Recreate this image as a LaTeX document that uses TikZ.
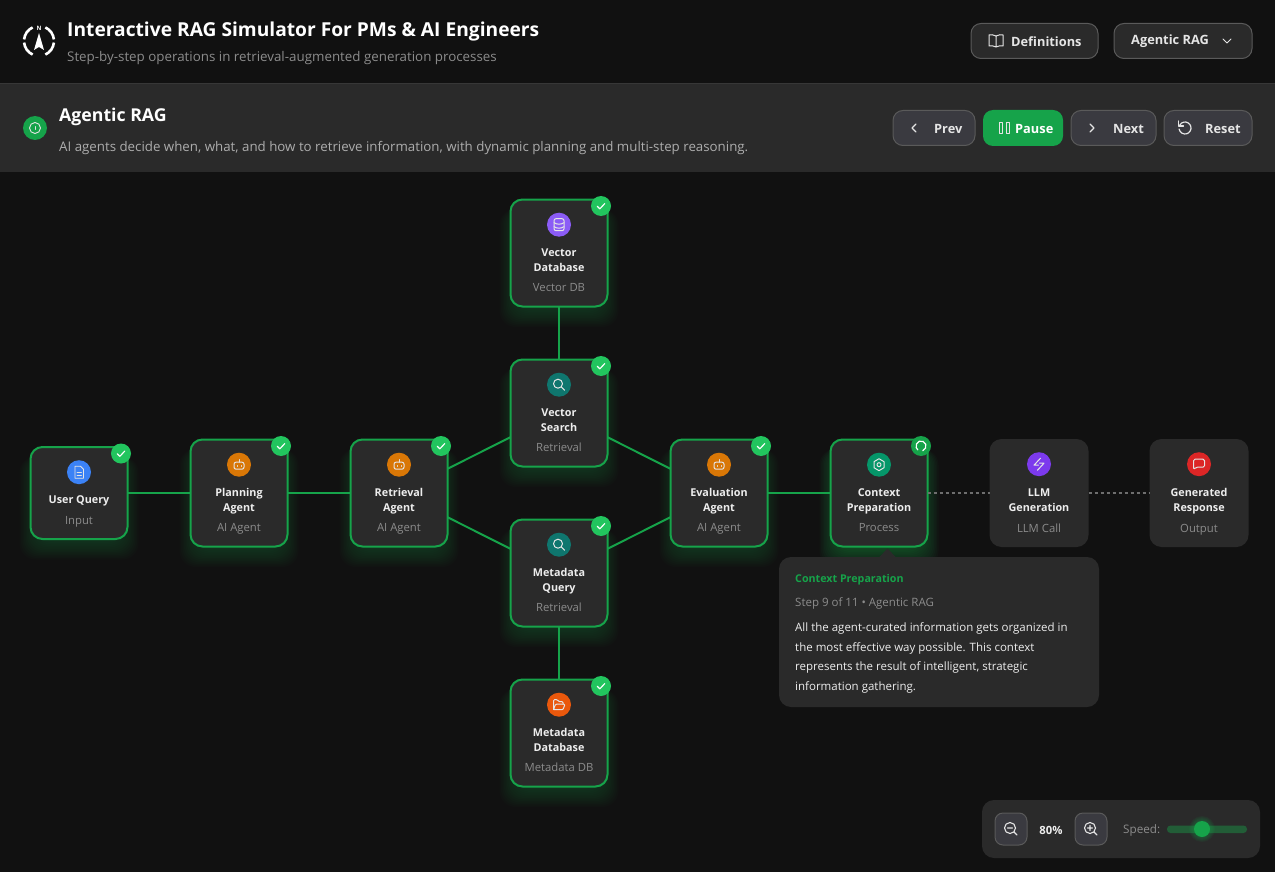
\documentclass[tikz,border=0pt]{standalone}
\usepackage{fontspec}
\setmainfont{Open Sans}
\usetikzlibrary{positioning}
\definecolor{pagebg}{HTML}{111111}
\definecolor{panelbg}{HTML}{2A2A2A}
\definecolor{btnbg}{HTML}{3A3A40}
\definecolor{btnline}{HTML}{5A5A5A}
\definecolor{flowgreen}{HTML}{16A34A}
\definecolor{checkgreen}{HTML}{22C55E}
\definecolor{softtext}{HTML}{8C8C8C}
\definecolor{dotgrey}{HTML}{6E6E6E}
\definecolor{bluedot}{HTML}{3B82F6}
\definecolor{amberdot}{HTML}{D97706}
\definecolor{violetdot}{HTML}{8B5CF6}
\definecolor{tealdot}{HTML}{0F766E}
\definecolor{orangedot}{HTML}{EA580C}
\definecolor{emeralddot}{HTML}{059669}
\definecolor{purpledot}{HTML}{7C3AED}
\definecolor{reddot}{HTML}{DC2626}
\tikzset{
	stepbox/.style={rectangle,rounded corners=12pt,fill=panelbg,minimum width=99pt,inner sep=0pt,outer sep=0pt},
	donebox/.style={stepbox,draw=flowgreen,line width=2pt,minimum width=97pt},
	iconball/.style={circle,minimum size=24pt,inner sep=0pt},
	stepname/.style={font=\fontsize{10.8}{15}\selectfont\bfseries,text=white!93!black,align=center,inner sep=0pt},
	steptype/.style={font=\fontsize{11.3}{14}\selectfont,text=softtext,inner sep=0pt},
	badge/.style={circle,minimum size=20pt,inner sep=0pt},
	wire/.style={draw=flowgreen,line width=2pt},
	dotwire/.style={draw=dotgrey,line width=2pt,dash pattern=on 3pt off 3pt},
	glyph/.style={draw=white!90!black,line width=1pt,line cap=round,line join=round},
	topbtn/.style={rectangle,rounded corners=10pt,fill=panelbg,draw=btnline,line width=1pt,minimum height=35pt,inner sep=0pt},
	ctrlbtn/.style={topbtn,fill=btnbg},
	btntext/.style={font=\fontsize{12.8}{15}\selectfont\bfseries,text=white!90!black,anchor=west,inner sep=0pt},
	tiptext/.style={font=\fontsize{11.5}{14}\selectfont,anchor=west,inner sep=0pt,text=white!93!black},
	pics/docglyph/.style={code={
		\draw[glyph,line width=.9pt] (-4,-6) -- (1.5,-6) -- (4.5,-3) -- (4.5,6) -- (-4,6) -- cycle;
		\draw[glyph,line width=.8pt] (-2,0) -- (2.5,0) (-2,3) -- (2.5,3);
	}},
	pics/botglyph/.style={code={
		\draw[glyph,rounded corners=2pt] (-5,-2.5) rectangle (5,4.5);
		\draw[glyph] (0,-2.5) -- (0,-5);
		\draw[glyph] (-2,.8) -- (-2,1.6) (2,.8) -- (2,1.6);
	}},
	pics/dbglyph/.style={code={
		\draw[glyph,rounded corners=2pt] (-5,-6) rectangle (5,6);
		\draw[glyph] (-5,-2) .. controls (-2,0) and (2,0) .. (5,-2);
		\draw[glyph] (-5,2) .. controls (-2,4) and (2,4) .. (5,2);
	}},
	pics/lensglyph/.style={code={
		\draw[glyph] (-1,-1) circle[radius=4.5pt];
		\draw[glyph] (2.4,2.4) -- (5.5,5.5);
	}},
	pics/gearglyph/.style={code={
		\draw[glyph] (0,-6) -- (5,-3) -- (5,3) -- (0,6) -- (-5,3) -- (-5,-3) -- cycle;
		\draw[glyph] (0,0) circle[radius=2pt];
	}},
	pics/boltglyph/.style={code={
		\draw[glyph] (1.5,-6) -- (-5,1) -- (-.5,1) (-1.5,6) -- (5,-1) -- (.5,-1);
	}},
	pics/chatglyph/.style={code={
		\draw[glyph,rounded corners=1.5pt] (-5.5,-5) -- (5.5,-5) -- (5.5,3) -- (-3,3) -- (-5.5,5.5) -- cycle;
	}},
	pics/folderglyph/.style={code={
		\draw[glyph,rounded corners=1pt] (-5.5,5) -- (-5.5,-5) -- (-1.5,-5) -- (0,-3) -- (4,-3) -- (4,-.5);
		\draw[glyph,rounded corners=1pt] (-5.5,5) -- (-3.5,-.5) -- (6,-.5) -- (4,5) -- cycle;
	}},
	pics/tickglyph/.style={code={
		\draw[glyph,line width=1.1pt,draw=white] (-3.8,.2) -- (-1.2,2.8) -- (3.8,-2.4);
	}},
}
\newcommand{\stepglow}[4]{% x, y, height, strength
	\foreach \g in {0,1.5,...,24}{
		\fill[flowgreen,opacity=#4,rounded corners=16pt]
			({#1-35.5-\g},{#2-#3/2+10}) rectangle ({#1+35.5+\g},{#2+#3/2-4+\g});
	}
}
\newcommand{\stepnode}[8]{% id, box style, x, y, height, colour, glyph, label
	\node[#2,minimum height=#5pt] (#1) at (#3,#4) {};
	\node[iconball,fill=#6,below=13pt of #1.north] (#1icon) {};
	\pic at (#1icon) {#7};
	#8
}
\newcommand{\steplabel}[3]{% id, name, type
	\node[steptype,above=10.3pt of #1.south] (#1type) {#3\strut};
	\node[stepname,above=5.7pt of #1type] (#1name) {#2\strut};
}
\newcommand{\donebadge}[1]{%
	\node[badge,fill=checkgreen] (#1check) at ([xshift=-6.5pt,yshift=-6.5pt]#1.north east) {};
	\pic at (#1check) {tickglyph};
}
\begin{document}
\begin{tikzpicture}[x=1pt,y=-1pt]
	\useasboundingbox (0,0) rectangle (1275,872);
	\fill[pagebg] (0,0) rectangle (1275,872);
	% header band
	\fill[panelbg] (0,83) rectangle (1275,172);
	\draw[white!6!panelbg] (0,83.5) -- (1275,83.5);
	\coordinate (logo) at (39,41);
	\foreach \a/\b in {-65/-6,6/65,115/174,186/245}{
		\draw[white,line width=2.6pt] (logo) ++(\a:15pt) arc[start angle=\a,end angle=\b,radius=15pt];
	}
	\fill[white] (39,33) -- (44,50) -- (39,47) -- (34,50) -- cycle;
	\node[font=\fontsize{6}{6}\selectfont\bfseries,text=white,inner sep=0pt] (logon) at (39,28) {N};
	\node[font=\fontsize{19.2}{22}\selectfont\bfseries,text=white,anchor=west,inner sep=0pt] (apptitle) at (67,32) {Interactive RAG Simulator For PMs \& AI Engineers};
	\node[font=\fontsize{13.35}{15}\selectfont,text=softtext,anchor=west,inner sep=0pt] (appsub) at (67,58) {Step-by-step operations in retrieval-augmented generation processes};
	\node[iconball,fill=flowgreen] (infoball) at (35,128) {};
	\draw[glyph,line width=.9pt] (infoball) circle[radius=5.5pt];
	\draw[glyph,line width=.9pt] (35,126.5) -- (35,129.5);
	\node[font=\fontsize{17.7}{20}\selectfont\bfseries,text=white,anchor=west,inner sep=0pt] (modetitle) at (59,117) {Agentic RAG};
	\node[font=\fontsize{13.3}{15}\selectfont,text=white!68!black,anchor=west,inner sep=0pt] (modetext) at (59,148) {AI agents decide when, what, and how to retrieve information, with dynamic planning and multi-step reasoning.};
	% top buttons
	\node[topbtn,minimum width=127pt] (defbtn) at (1034.5,41) {};
	\draw[glyph] (996,36) .. controls (993,34.5) and (991,34.5) .. (989,35) -- (989,46) .. controls (991,45.5) and (993,45.5) .. (996,47) .. controls (999,45.5) and (1001,45.5) .. (1003,46) -- (1003,35) .. controls (1001,34.5) and (999,34.5) .. (996,36) -- (996,47);
	\node[btntext] (deftext) at (1011,41.5) {Definitions};
	\node[topbtn,minimum width=138pt] (modebtn) at (1183,41) {};
	\node[btntext] (modebtntext) at (1131,41.5) {Agentic RAG};
	\draw[glyph] (1223,39) -- (1227,43) -- (1231,39);
	\node[ctrlbtn,minimum width=82pt] (prevbtn) at (934,128) {};
	\draw[glyph,line width=1.2pt] (916,124) -- (912,128) -- (916,132);
	\node[btntext] (prevtext) at (934,128.5) {Prev};
	\node[ctrlbtn,fill=flowgreen,draw=none,minimum width=80pt,minimum height=36pt] (pausebtn) at (1023,128) {};
	\draw[glyph] (999,122.5) rectangle (1002.5,133.5) (1006,122.5) rectangle (1009.5,133.5);
	\node[btntext,text=white] (pausetext) at (1015,128.5) {Pause};
	\node[ctrlbtn,minimum width=85pt] (nextbtn) at (1113.5,128) {};
	\draw[glyph,line width=1.2pt] (1090,124) -- (1094,128) -- (1090,132);
	\node[btntext] (nexttext) at (1113,128.5) {Next};
	\node[ctrlbtn,minimum width=88pt] (resetbtn) at (1208,128) {};
	\draw[glyph,line width=1.2pt] (1185,128) ++(150:6pt) arc[start angle=150,end angle=-170,radius=6pt];
	\draw[glyph,line width=1.2pt] (1178.5,121) -- (1178.5,126) -- (1183.5,126);
	\node[btntext] (resettext) at (1205,128.5) {Reset};
	% glow under finished steps
	\stepglow{79}{493}{93}{.025}
	\stepglow{239}{493}{108}{.025}
	\stepglow{399}{493}{108}{.025}
	\stepglow{559}{253}{108}{.025}
	\stepglow{559}{413}{108}{.025}
	\stepglow{559}{573}{108}{.025}
	\stepglow{559}{733}{108}{.025}
	\stepglow{719}{493}{108}{.025}
	\stepglow{879}{493}{108}{.04}
	% steps
	\stepnode{query}{donebox}{79}{493}{92}{bluedot}{docglyph}{\steplabel{query}{User Query}{Input}}
	\stepnode{planner}{donebox}{239}{493}{107}{amberdot}{botglyph}{\steplabel{planner}{Planning\\Agent}{AI Agent}}
	\stepnode{retriever}{donebox}{399}{493}{107}{amberdot}{botglyph}{\steplabel{retriever}{Retrieval\\Agent}{AI Agent}}
	\stepnode{vectordb}{donebox}{559}{253}{107}{violetdot}{dbglyph}{\steplabel{vectordb}{Vector\\Database}{Vector DB}}
	\stepnode{vectorsearch}{donebox}{559}{413}{107}{tealdot}{lensglyph}{\steplabel{vectorsearch}{Vector\\Search}{Retrieval}}
	\stepnode{metaquery}{donebox}{559}{573}{107}{tealdot}{lensglyph}{\steplabel{metaquery}{Metadata\\Query}{Retrieval}}
	\stepnode{metadb}{donebox}{559}{733}{107}{orangedot}{folderglyph}{\steplabel{metadb}{Metadata\\Database}{Metadata DB}}
	\stepnode{evaluator}{donebox}{719}{493}{107}{amberdot}{botglyph}{\steplabel{evaluator}{Evaluation\\Agent}{AI Agent}}
	\stepnode{context}{donebox}{879}{493}{107}{emeralddot}{gearglyph}{\steplabel{context}{Context\\Preparation}{Process}}
	\stepnode{llm}{stepbox}{1039}{493}{108}{purpledot}{boltglyph}{\steplabel{llm}{LLM\\Generation}{LLM Call}}
	\stepnode{response}{stepbox}{1199}{493}{108}{reddot}{chatglyph}{\steplabel{response}{Generated\\Response}{Output}}
	% connectors
	\draw[wire] (query) -- (planner);
	\draw[wire] (planner) -- (retriever);
	\draw[wire] (retriever) -- (vectorsearch);
	\draw[wire] (retriever) -- (metaquery);
	\draw[wire] (vectordb) -- (vectorsearch);
	\draw[wire] (metaquery) -- (metadb);
	\draw[wire] (vectorsearch) -- (evaluator);
	\draw[wire] (metaquery) -- (evaluator);
	\draw[wire] (evaluator) -- (context);
	\draw[dotwire] (context) -- (llm);
	\draw[dotwire] (llm) -- (response);
	% status badges
	\donebadge{query}
	\donebadge{planner}
	\donebadge{retriever}
	\donebadge{vectordb}
	\donebadge{vectorsearch}
	\donebadge{metaquery}
	\donebadge{metadb}
	\donebadge{evaluator}
	\node[badge,fill=flowgreen] (contextspin) at ([xshift=-6.5pt,yshift=-6.5pt]context.north east) {};
	\draw[white,line width=1.2pt,line cap=round] (contextspin) ++(-70:5pt) arc[start angle=-70,end angle=230,radius=5pt];
	% hover card
	\fill[panelbg] (879,557.5) -- (887.5,548.5) -- (896,557.5) -- cycle;
	\node[stepbox,minimum width=320pt,minimum height=150pt] (card) at (939,632) {};
	\node[tiptext,text=flowgreen,font=\fontsize{10.7}{14}\selectfont\bfseries] (cardtitle) at (795,579.5) {Context Preparation};
	\node[tiptext,text=softtext] (cardstep) at (795,603.5) {Step 9 of 11 • Agentic RAG};
	\node[tiptext] (cardline1) at (795,628.5) {All the agent-curated information gets organized in};
	\node[tiptext] (cardline2) at (795,648.5) {the most effective way possible. This context};
	\node[tiptext] (cardline3) at (795,667.5) {represents the result of intelligent, strategic};
	\node[tiptext] (cardline4) at (795,687.5) {information gathering.};
	% zoom and speed panel
	\node[stepbox,minimum width=278pt,minimum height=58pt] (zoompanel) at (1121,829) {};
	\node[ctrlbtn,rounded corners=8pt,minimum width=32pt,minimum height=32pt] (zoomout) at (1011,829) {};
	\draw[glyph,line width=1.1pt] (1010,828) circle[radius=5.5pt] (1014.2,832.2) -- (1017,835) (1007.5,828) -- (1012.5,828);
	\node[font=\fontsize{11.3}{14}\selectfont\bfseries,text=white!93!black,inner sep=0pt] (zoomlevel) at (1051,830) {80\%};
	\node[ctrlbtn,rounded corners=8pt,minimum width=32pt,minimum height=32pt] (zoomin) at (1091,829) {};
	\draw[glyph,line width=1.1pt] (1090,828) circle[radius=5.5pt] (1094.2,832.2) -- (1097,835) (1087.5,828) -- (1092.5,828) (1090,825.5) -- (1090,830.5);
	\node[font=\fontsize{11.7}{14}\selectfont,text=softtext,anchor=west,inner sep=0pt] (speedtext) at (1123,830.5) {Speed:};
	\fill[flowgreen!42!panelbg,rounded corners=3.5pt] (1167,825.5) rectangle (1247,833);
	\foreach \g in {1,...,5}{
		\fill[flowgreen,opacity=.08] (1202,829) circle[radius=8+\g];
	}
	\node[circle,fill=flowgreen,minimum size=16pt,inner sep=0pt] (speedknob) at (1202,829) {};
\end{tikzpicture}
\end{document}
